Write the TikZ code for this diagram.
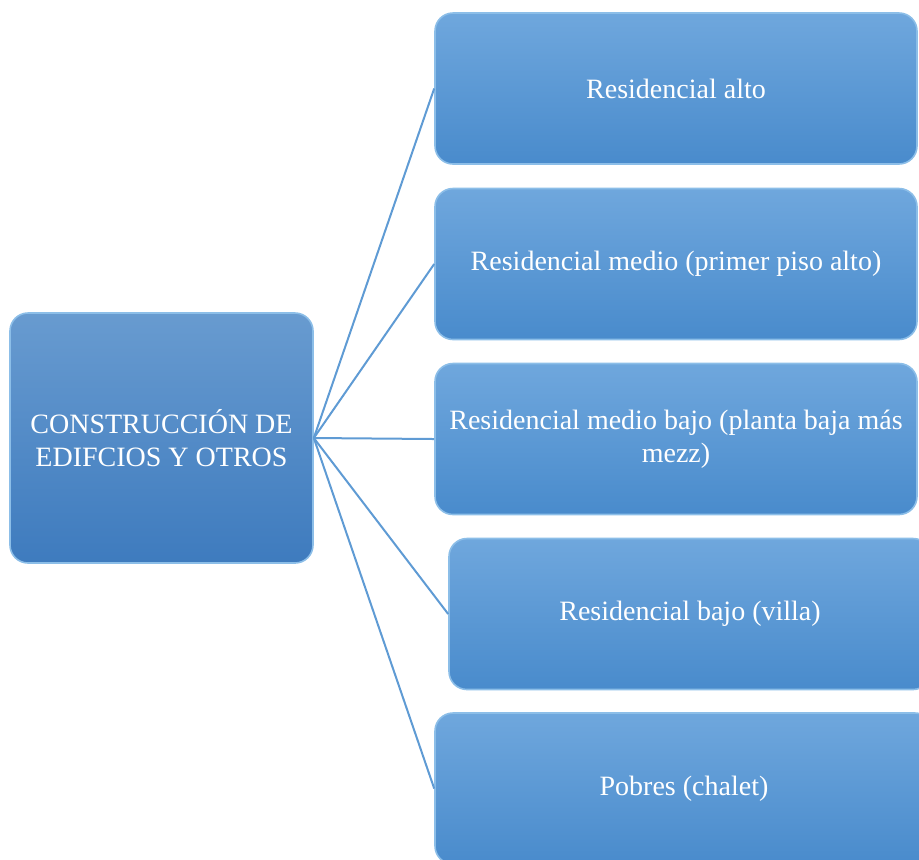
\documentclass[tikz,border=0pt]{standalone}
\usepackage{fontspec}
\setmainfont{Liberation Serif}
\usetikzlibrary{positioning}

\definecolor{boxtop}{RGB}{111,167,221}
\definecolor{boxbot}{RGB}{73,139,204}
\definecolor{roottop}{RGB}{104,155,208}
\definecolor{rootbot}{RGB}{62,123,190}
\definecolor{boxline}{RGB}{140,190,232}
\definecolor{linkcol}{RGB}{95,155,212}

\tikzset{
  leaf/.style={draw=boxline,line width=0.8pt,rounded corners=9pt,
    top color=boxtop,bottom color=boxbot,text=white,align=center,
    minimum width=241pt,minimum height=75.5pt,inner sep=2pt,
    font=\fontsize{14}{16.5}\selectfont},
  rootbox/.style={leaf,top color=roottop,bottom color=rootbot,
    minimum width=151.5pt,minimum height=125pt},
  link/.style={linkcol,line width=1pt}
}

\begin{document}
\begin{tikzpicture}[x=0.5pt,y=-0.5pt]
        \clip (0,0) rectangle (919,859);
        \useasboundingbox (0,0) rectangle (919,859);

        \node [rootbox] at (161.5,438) (root){CONSTRUCCIÓN DE\\EDIFCIOS Y OTROS};
        \node [leaf] at (676,88.5) (alto){Residencial alto};
        \node [leaf] at (676,264) (medio){Residencial medio (primer piso alto)};
        \node [leaf] at (676,439) (mediobajo){Residencial medio bajo (planta baja más\\mezz)};
        \node [leaf] at (690,614) (bajo){Residencial bajo (villa)};
        \node [leaf,minimum width=249pt] at (684,788.5) (pobres){Pobres (chalet)};

        \draw [link] (root.east) -- (alto.west);
        \draw [link] (root.east) -- (medio.west);
        \draw [link] (root.east) -- (mediobajo.west);
        \draw [link] (root.east) -- (bajo.west);
        \draw [link] (root.east) -- (pobres.west);
      \end{tikzpicture}
\end{document}
